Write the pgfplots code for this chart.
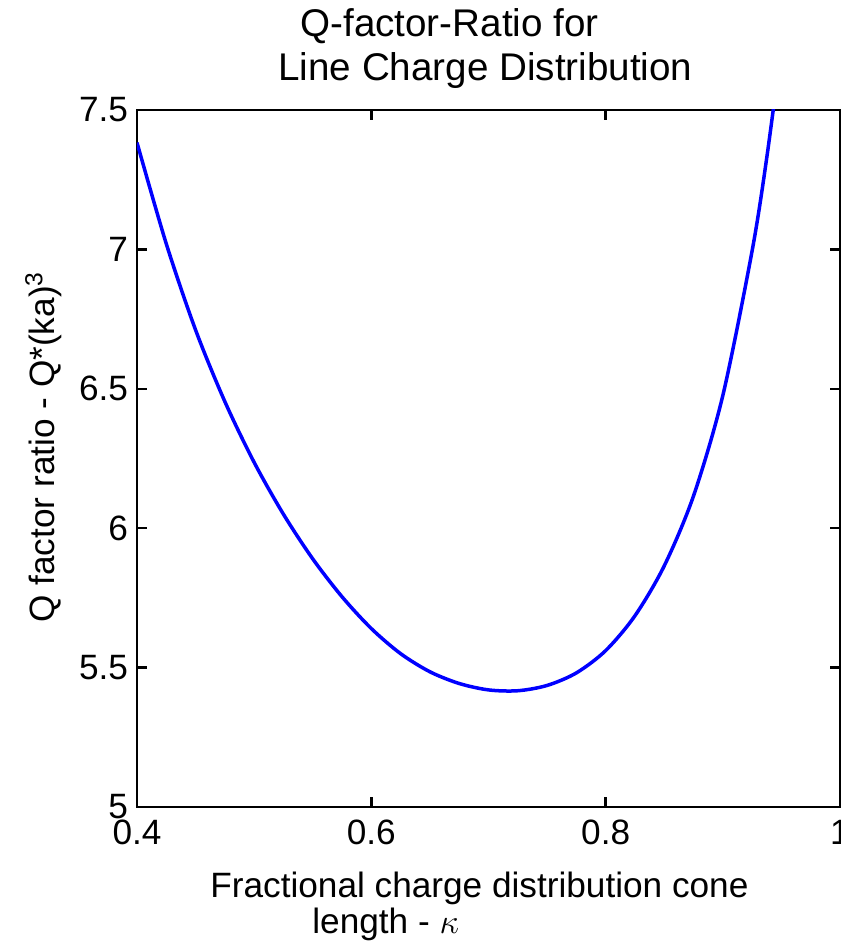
\documentclass[border=0pt]{standalone}
\usepackage{pgfplots}
\pgfplotsset{compat=1.18}
\usepackage{fontspec}
\setmainfont{Liberation Sans}
\begin{document}
\begin{tikzpicture}
\useasboundingbox (-68.5pt,-68.5pt) rectangle (352pt,403.5pt);
\begin{axis}[
  name=ax,
  scale only axis,
  width=351.5pt, height=348.5pt,
  xmin=0.4, xmax=1, ymin=5, ymax=7.5,
  xtick={0.4,0.6,0.8,1},
  xticklabels={0.4,0.6,0.8,1},
  ytick={5,5.5,6,6.5,7,7.5},
  yticklabels={5,5.5,6,6.5,7,7.5},
  tick align=inside,
  major tick length=5pt,
  axis line style={line width=1.2pt},
  every tick/.style={black, line width=1.2pt},
  /pgf/number format/assume math mode=true,
  ticklabel style={font=\fontsize{17.6}{21}\selectfont},
  xticklabel style={yshift=-3pt},
  yticklabel style={xshift=-1pt},
]
\addplot[blue, line width=1.75pt, smooth] coordinates {
(0.400,7.383)
(0.425,7.020)
(0.450,6.711)
(0.475,6.454)
(0.500,6.236)
(0.525,6.050)
(0.550,5.890)
(0.575,5.754)
(0.600,5.640)
(0.625,5.550)
(0.650,5.485)
(0.675,5.443)
(0.700,5.420)
(0.725,5.417)
(0.750,5.436)
(0.775,5.481)
(0.800,5.561)
(0.825,5.686)
(0.850,5.865)
(0.875,6.116)
(0.900,6.476)
(0.925,6.995)
(0.9375,7.329)
(0.950,7.726)
};
\end{axis}
\node[anchor=base west, inner sep=0pt, font=\fontsize{19.3}{23}\selectfont] at (81.5pt,385pt) {Q-factor-Ratio for};
\node[anchor=base west, inner sep=0pt, font=\fontsize{19.3}{23}\selectfont] at (70.5pt,363pt) {Line Charge Distribution};
\node[anchor=base west, inner sep=0pt, font=\fontsize{17.6}{21}\selectfont] at (36.5pt,-45pt) {Fractional charge distribution cone};
\node[anchor=base west, inner sep=0pt, font=\fontsize{17.6}{21}\selectfont] at (87.5pt,-63pt) {length - $\kappa$};
\node[anchor=base, rotate=90, inner sep=0pt, font=\fontsize{17.6}{21}\selectfont] at (-41pt,180pt) {Q factor ratio - Q*(ka)\textsuperscript{3}};
\end{tikzpicture}
\end{document}
